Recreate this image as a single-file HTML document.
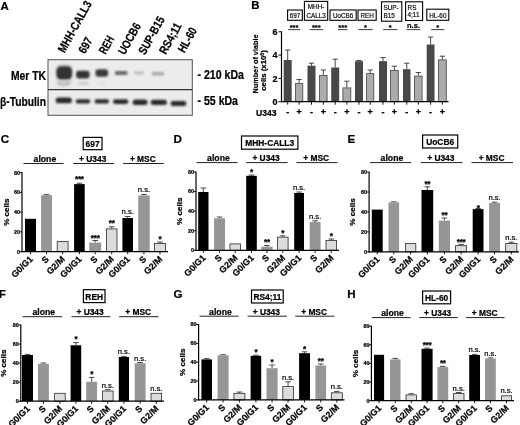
<!DOCTYPE html>
<html><head><meta charset="utf-8"><title>Figure</title>
<style>
html,body{margin:0;padding:0;background:#fff;}
body{width:520px;height:425px;overflow:hidden;}
svg{display:block;font-family:"Liberation Sans", Arial, sans-serif;filter:blur(0.35px);}
text[font-weight=bold]{stroke:#000;stroke-width:.22px;}
</style></head><body>
<svg width="520" height="425" viewBox="0 0 520 425">
<defs><filter id="blur" x="-20%" y="-50%" width="140%" height="200%"><feGaussianBlur stdDeviation="1.0"/></filter><filter id="blur2" x="-30%" y="-30%" width="160%" height="160%"><feGaussianBlur stdDeviation="1.8"/></filter></defs>
<rect x="0" y="0" width="520" height="425" fill="#fff"/>
<text x="0.6" y="9.6" font-size="11.4" font-weight="bold" text-anchor="start" fill="#000">A</text>
<rect x="48.00" y="59.70" width="144.30" height="55.60" fill="#ececec" stroke="#555" stroke-width="1"/>
<line x1="48" y1="89.7" x2="192.3" y2="89.7" stroke="#333" stroke-width="1.2"/>
<g filter="url(#blur2)"><rect x="56.5" y="63.5" width="15.5" height="23" rx="5" fill="#d6d6d6"/></g>
<g filter="url(#blur)">
<rect x="56.4" y="66.2" width="15.7" height="13.4" rx="4.8" ry="4.8" fill="#303030"/>
<rect x="76.1" y="70.7" width="13.5" height="7.7" rx="2.8" ry="2.8" fill="#333"/>
<rect x="95.5" y="69.3" width="12.6" height="7.4" rx="2.7" ry="2.7" fill="#3a3a3a"/>
<rect x="114.9" y="70.9" width="12.6" height="4.2" rx="1.5" ry="1.5" fill="#666"/>
<rect x="133.9" y="70.9" width="10.0" height="3.8" rx="1.4" ry="1.4" fill="#c4c4c4"/>
<rect x="151.7" y="71.9" width="12.4" height="3.7" rx="1.3" ry="1.3" fill="#a8a8a8"/>
<rect x="57.5" y="81.5" width="12.5" height="4" rx="2" fill="#c2c2c2"/>
<rect x="77.5" y="82" width="11" height="2.5" rx="1.2" fill="#c8c8c8"/>
<rect x="97" y="82.5" width="9" height="2" rx="1" fill="#dedede"/>
<rect x="55.7" y="97.5" width="16.2" height="5.8" rx="2.9" ry="2.9" fill="#2c2c2c"/>
<rect x="75.7" y="99.3" width="14.5" height="4.3" rx="2.1" ry="2.1" fill="#2c2c2c"/>
<rect x="94.6" y="99.3" width="14.4" height="4.3" rx="2.1" ry="2.1" fill="#2c2c2c"/>
<rect x="113.0" y="99.3" width="15.3" height="4.8" rx="2.4" ry="2.4" fill="#2c2c2c"/>
<rect x="132.6" y="99.5" width="15.0" height="5.6" rx="2.8" ry="2.8" fill="#2c2c2c"/>
<rect x="150.7" y="99.7" width="16.2" height="5.2" rx="2.6" ry="2.6" fill="#2c2c2c"/>
<rect x="170.6" y="101.1" width="15.7" height="5.0" rx="2.5" ry="2.5" fill="#2c2c2c"/>
</g>
<text x="46" y="80" font-size="12.6" font-weight="bold" text-anchor="end" fill="#000" stroke="#000" stroke-width="0.35" textLength="35" lengthAdjust="spacingAndGlyphs">Mer TK</text>
<text x="46" y="106.2" font-size="12.6" font-weight="bold" text-anchor="end" fill="#000" stroke="#000" stroke-width="0.35" textLength="46" lengthAdjust="spacingAndGlyphs">β-Tubulin</text>
<text x="197.5" y="79" font-size="12.2" font-weight="bold" text-anchor="start" fill="#000" stroke="#000" stroke-width="0.35" textLength="46.5" lengthAdjust="spacingAndGlyphs">- 210 kDa</text>
<text x="197.5" y="105.3" font-size="12.2" font-weight="bold" text-anchor="start" fill="#000" stroke="#000" stroke-width="0.35" textLength="40.5" lengthAdjust="spacingAndGlyphs">- 55 kDa</text>
<text x="64.5" y="53.5" font-size="12" font-weight="bold" text-anchor="start" fill="#000" transform="rotate(-61 64.5 53.5)" stroke="#000" stroke-width="0.35" textLength="57" lengthAdjust="spacingAndGlyphs">MHH-CALL3</text>
<text x="85" y="54.5" font-size="12" font-weight="bold" text-anchor="start" fill="#000" transform="rotate(-61 85 54.5)" stroke="#000" stroke-width="0.35" textLength="16.5" lengthAdjust="spacingAndGlyphs">697</text>
<text x="105.6" y="55" font-size="12" font-weight="bold" text-anchor="start" fill="#000" transform="rotate(-61 105.6 55)" stroke="#000" stroke-width="0.35" textLength="18.5" lengthAdjust="spacingAndGlyphs">REH</text>
<text x="124.8" y="55.6" font-size="12" font-weight="bold" text-anchor="start" fill="#000" transform="rotate(-61 124.8 55.6)" stroke="#000" stroke-width="0.35" textLength="34" lengthAdjust="spacingAndGlyphs">UOCB6</text>
<text x="145" y="55.6" font-size="12" font-weight="bold" text-anchor="start" fill="#000" transform="rotate(-61 145 55.6)" stroke="#000" stroke-width="0.35" textLength="41.5" lengthAdjust="spacingAndGlyphs">SUP-B15</text>
<text x="165.8" y="55" font-size="12" font-weight="bold" text-anchor="start" fill="#000" transform="rotate(-61 165.8 55)" stroke="#000" stroke-width="0.35" textLength="33.5" lengthAdjust="spacingAndGlyphs">RS4;11</text>
<text x="184.5" y="53.5" font-size="12" font-weight="bold" text-anchor="start" fill="#000" transform="rotate(-61 184.5 53.5)" stroke="#000" stroke-width="0.35" textLength="26.5" lengthAdjust="spacingAndGlyphs">HL-60</text>
<text x="251.2" y="8.8" font-size="11.4" font-weight="bold" text-anchor="start" fill="#000">B</text>
<line x1="287.7" y1="60" x2="287.7" y2="50" stroke="#333" stroke-width="0.9"/>
<line x1="285.09999999999997" y1="50" x2="290.3" y2="50" stroke="#333" stroke-width="0.9"/>
<rect x="283.70" y="60.00" width="8.00" height="41.70" fill="#484848" stroke="none" stroke-width="1"/>
<line x1="287.7" y1="101.7" x2="287.7" y2="104.7" stroke="#000" stroke-width="0.9"/>
<text x="287.7" y="115.2" font-size="9" font-weight="bold" text-anchor="middle" fill="#000">-</text>
<line x1="299.1" y1="83.2" x2="299.1" y2="79.5" stroke="#333" stroke-width="0.9"/>
<line x1="296.5" y1="79.5" x2="301.70000000000005" y2="79.5" stroke="#333" stroke-width="0.9"/>
<rect x="295.40" y="83.60" width="7.40" height="18.10" fill="#ababab" stroke="#444" stroke-width="0.8"/>
<line x1="299.1" y1="101.7" x2="299.1" y2="104.7" stroke="#000" stroke-width="0.9"/>
<text x="299.1" y="115.2" font-size="9" font-weight="bold" text-anchor="middle" fill="#000">+</text>
<line x1="311.5" y1="65.7" x2="311.5" y2="63.2" stroke="#333" stroke-width="0.9"/>
<line x1="308.9" y1="63.2" x2="314.1" y2="63.2" stroke="#333" stroke-width="0.9"/>
<rect x="307.50" y="65.70" width="8.00" height="36.00" fill="#484848" stroke="none" stroke-width="1"/>
<line x1="311.5" y1="101.7" x2="311.5" y2="104.7" stroke="#000" stroke-width="0.9"/>
<text x="311.5" y="115.2" font-size="9" font-weight="bold" text-anchor="middle" fill="#000">-</text>
<line x1="323.35" y1="75" x2="323.35" y2="70" stroke="#333" stroke-width="0.9"/>
<line x1="320.75" y1="70" x2="325.95000000000005" y2="70" stroke="#333" stroke-width="0.9"/>
<rect x="319.60" y="75.40" width="7.50" height="26.30" fill="#ababab" stroke="#444" stroke-width="0.8"/>
<line x1="323.35" y1="101.7" x2="323.35" y2="104.7" stroke="#000" stroke-width="0.9"/>
<text x="323.35" y="115.2" font-size="9" font-weight="bold" text-anchor="middle" fill="#000">+</text>
<line x1="335.2" y1="67.5" x2="335.2" y2="59.2" stroke="#333" stroke-width="0.9"/>
<line x1="332.59999999999997" y1="59.2" x2="337.8" y2="59.2" stroke="#333" stroke-width="0.9"/>
<rect x="331.20" y="67.50" width="8.00" height="34.20" fill="#484848" stroke="none" stroke-width="1"/>
<line x1="335.2" y1="101.7" x2="335.2" y2="104.7" stroke="#000" stroke-width="0.9"/>
<text x="335.2" y="115.2" font-size="9" font-weight="bold" text-anchor="middle" fill="#000">-</text>
<line x1="346.85" y1="87.5" x2="346.85" y2="81.2" stroke="#333" stroke-width="0.9"/>
<line x1="344.25" y1="81.2" x2="349.45000000000005" y2="81.2" stroke="#333" stroke-width="0.9"/>
<rect x="342.90" y="87.90" width="7.90" height="13.80" fill="#ababab" stroke="#444" stroke-width="0.8"/>
<line x1="346.85" y1="101.7" x2="346.85" y2="104.7" stroke="#000" stroke-width="0.9"/>
<text x="346.85" y="115.2" font-size="9" font-weight="bold" text-anchor="middle" fill="#000">+</text>
<line x1="359.0" y1="61.2" x2="359.0" y2="60.5" stroke="#333" stroke-width="0.9"/>
<line x1="356.4" y1="60.5" x2="361.6" y2="60.5" stroke="#333" stroke-width="0.9"/>
<rect x="355.00" y="61.20" width="8.00" height="40.50" fill="#484848" stroke="none" stroke-width="1"/>
<line x1="359.0" y1="101.7" x2="359.0" y2="104.7" stroke="#000" stroke-width="0.9"/>
<text x="359.0" y="115.2" font-size="9" font-weight="bold" text-anchor="middle" fill="#000">-</text>
<line x1="370.2" y1="73.2" x2="370.2" y2="70" stroke="#333" stroke-width="0.9"/>
<line x1="367.59999999999997" y1="70" x2="372.8" y2="70" stroke="#333" stroke-width="0.9"/>
<rect x="366.60" y="73.60" width="7.20" height="28.10" fill="#ababab" stroke="#444" stroke-width="0.8"/>
<line x1="370.2" y1="101.7" x2="370.2" y2="104.7" stroke="#000" stroke-width="0.9"/>
<text x="370.2" y="115.2" font-size="9" font-weight="bold" text-anchor="middle" fill="#000">+</text>
<line x1="383.0" y1="61.2" x2="383.0" y2="57.5" stroke="#333" stroke-width="0.9"/>
<line x1="380.4" y1="57.5" x2="385.6" y2="57.5" stroke="#333" stroke-width="0.9"/>
<rect x="379.00" y="61.20" width="8.00" height="40.50" fill="#484848" stroke="none" stroke-width="1"/>
<line x1="383.0" y1="101.7" x2="383.0" y2="104.7" stroke="#000" stroke-width="0.9"/>
<text x="383.0" y="115.2" font-size="9" font-weight="bold" text-anchor="middle" fill="#000">-</text>
<line x1="394.35" y1="70" x2="394.35" y2="66.2" stroke="#333" stroke-width="0.9"/>
<line x1="391.75" y1="66.2" x2="396.95000000000005" y2="66.2" stroke="#333" stroke-width="0.9"/>
<rect x="390.40" y="70.40" width="7.90" height="31.30" fill="#ababab" stroke="#444" stroke-width="0.8"/>
<line x1="394.35" y1="101.7" x2="394.35" y2="104.7" stroke="#000" stroke-width="0.9"/>
<text x="394.35" y="115.2" font-size="9" font-weight="bold" text-anchor="middle" fill="#000">+</text>
<line x1="406.75" y1="69.2" x2="406.75" y2="63.2" stroke="#333" stroke-width="0.9"/>
<line x1="404.15" y1="63.2" x2="409.35" y2="63.2" stroke="#333" stroke-width="0.9"/>
<rect x="403.00" y="69.20" width="7.50" height="32.50" fill="#484848" stroke="none" stroke-width="1"/>
<line x1="406.75" y1="101.7" x2="406.75" y2="104.7" stroke="#000" stroke-width="0.9"/>
<text x="406.75" y="115.2" font-size="9" font-weight="bold" text-anchor="middle" fill="#000">-</text>
<line x1="418.35" y1="75.7" x2="418.35" y2="72.5" stroke="#333" stroke-width="0.9"/>
<line x1="415.75" y1="72.5" x2="420.95000000000005" y2="72.5" stroke="#333" stroke-width="0.9"/>
<rect x="414.60" y="76.10" width="7.50" height="25.60" fill="#ababab" stroke="#444" stroke-width="0.8"/>
<line x1="418.35" y1="101.7" x2="418.35" y2="104.7" stroke="#000" stroke-width="0.9"/>
<text x="418.35" y="115.2" font-size="9" font-weight="bold" text-anchor="middle" fill="#000">+</text>
<line x1="430.6" y1="44.5" x2="430.6" y2="37" stroke="#333" stroke-width="0.9"/>
<line x1="428.0" y1="37" x2="433.20000000000005" y2="37" stroke="#333" stroke-width="0.9"/>
<rect x="426.70" y="44.50" width="7.80" height="57.20" fill="#484848" stroke="none" stroke-width="1"/>
<line x1="430.6" y1="101.7" x2="430.6" y2="104.7" stroke="#000" stroke-width="0.9"/>
<text x="430.6" y="115.2" font-size="9" font-weight="bold" text-anchor="middle" fill="#000">-</text>
<line x1="442.35" y1="59.5" x2="442.35" y2="56.2" stroke="#333" stroke-width="0.9"/>
<line x1="439.75" y1="56.2" x2="444.95000000000005" y2="56.2" stroke="#333" stroke-width="0.9"/>
<rect x="438.40" y="59.90" width="7.90" height="41.80" fill="#ababab" stroke="#444" stroke-width="0.8"/>
<line x1="442.35" y1="101.7" x2="442.35" y2="104.7" stroke="#000" stroke-width="0.9"/>
<text x="442.35" y="115.2" font-size="9" font-weight="bold" text-anchor="middle" fill="#000">+</text>
<line x1="281.5" y1="31.3" x2="281.5" y2="102.3" stroke="#000" stroke-width="1.2"/>
<line x1="280.9" y1="101.7" x2="448.5" y2="101.7" stroke="#000" stroke-width="1.3"/>
<line x1="278.5" y1="101.7" x2="281.5" y2="101.7" stroke="#000" stroke-width="1"/>
<text x="277.5" y="104.9" font-size="9" font-weight="bold" text-anchor="end" fill="#000">0</text>
<line x1="278.5" y1="78.4" x2="281.5" y2="78.4" stroke="#000" stroke-width="1"/>
<text x="277.5" y="81.60000000000001" font-size="9" font-weight="bold" text-anchor="end" fill="#000">2</text>
<line x1="278.5" y1="55.1" x2="281.5" y2="55.1" stroke="#000" stroke-width="1"/>
<text x="277.5" y="58.300000000000004" font-size="9" font-weight="bold" text-anchor="end" fill="#000">4</text>
<line x1="278.5" y1="31.799999999999997" x2="281.5" y2="31.799999999999997" stroke="#000" stroke-width="1"/>
<text x="277.5" y="35.0" font-size="9" font-weight="bold" text-anchor="end" fill="#000">6</text>
<text x="256" y="116" font-size="8.6" font-weight="bold" text-anchor="start" fill="#000">U343</text>
<text x="257.8" y="64" font-size="7.8" font-weight="bold" text-anchor="middle" fill="#000" transform="rotate(-90 257.8 64)" textLength="59" lengthAdjust="spacingAndGlyphs">Number of viable</text>
<text x="266.4" y="70.5" font-size="7.8" font-weight="bold" text-anchor="middle" transform="rotate(-90 266.4 70.5)">cells (x10<tspan font-size="5" dy="-2.5">6</tspan><tspan dy="2.5">)</tspan></text>
<rect x="287.60" y="10.00" width="14.70" height="10.30" fill="#fff" stroke="#000" stroke-width="1.1"/>
<text transform="translate(294.95 17.90) scale(0.88 1)" x="0" y="0" font-size="7.2" font-weight="normal" text-anchor="middle" stroke="#000" stroke-width="0.18">697</text>
<rect x="304.40" y="1.40" width="23.30" height="18.90" fill="#fff" stroke="#000" stroke-width="1.1"/>
<text transform="translate(316.05 9.00) scale(0.88 1)" x="0" y="0" font-size="7.2" font-weight="normal" text-anchor="middle" stroke="#000" stroke-width="0.18">MHH-</text>
<text transform="translate(316.05 17.50) scale(0.88 1)" x="0" y="0" font-size="7.2" font-weight="normal" text-anchor="middle" stroke="#000" stroke-width="0.18">CALL3</text>
<rect x="330.00" y="10.00" width="26.20" height="10.30" fill="#fff" stroke="#000" stroke-width="1.1"/>
<text transform="translate(343.10 17.90) scale(0.88 1)" x="0" y="0" font-size="7.2" font-weight="normal" text-anchor="middle" stroke="#000" stroke-width="0.18">UoCB6</text>
<rect x="358.00" y="10.00" width="18.20" height="10.30" fill="#fff" stroke="#000" stroke-width="1.1"/>
<text transform="translate(367.10 17.90) scale(0.88 1)" x="0" y="0" font-size="7.2" font-weight="normal" text-anchor="middle" stroke="#000" stroke-width="0.18">REH</text>
<rect x="381.50" y="1.80" width="20.30" height="19.40" fill="#fff" stroke="#000" stroke-width="1.1"/>
<text transform="translate(383.50 9.60) scale(0.88 1)" x="0" y="0" font-size="7.2" font-weight="normal" text-anchor="start" stroke="#000" stroke-width="0.18">SUP-</text>
<text transform="translate(383.50 17.80) scale(0.88 1)" x="0" y="0" font-size="7.2" font-weight="normal" text-anchor="start" stroke="#000" stroke-width="0.18">B15</text>
<rect x="405.60" y="1.80" width="17.00" height="18.70" fill="#fff" stroke="#000" stroke-width="1.1"/>
<text transform="translate(407.60 9.60) scale(0.88 1)" x="0" y="0" font-size="7.2" font-weight="normal" text-anchor="start" stroke="#000" stroke-width="0.18">RS</text>
<text transform="translate(407.60 17.10) scale(0.88 1)" x="0" y="0" font-size="7.2" font-weight="normal" text-anchor="start" stroke="#000" stroke-width="0.18">4;11</text>
<rect x="426.80" y="9.20" width="22.00" height="11.10" fill="#fff" stroke="#000" stroke-width="1.1"/>
<text transform="translate(437.80 17.90) scale(0.88 1)" x="0" y="0" font-size="7.2" font-weight="normal" text-anchor="middle" stroke="#000" stroke-width="0.18">HL-60</text>
<line x1="288.2" y1="29.6" x2="300" y2="29.6" stroke="#222" stroke-width="0.9"/>
<text x="294.1" y="29.6" font-size="7.5" font-weight="bold" text-anchor="middle" fill="#000">***</text>
<line x1="309.7" y1="29.6" x2="323" y2="29.6" stroke="#222" stroke-width="0.9"/>
<text x="316.35" y="29.6" font-size="7.5" font-weight="bold" text-anchor="middle" fill="#000">***</text>
<line x1="338" y1="29.6" x2="347.4" y2="29.6" stroke="#222" stroke-width="0.9"/>
<text x="342.7" y="29.6" font-size="7.5" font-weight="bold" text-anchor="middle" fill="#000">***</text>
<line x1="358.5" y1="29.6" x2="372.6" y2="29.6" stroke="#222" stroke-width="0.9"/>
<text x="365.55" y="29.6" font-size="7.5" font-weight="bold" text-anchor="middle" fill="#000">*</text>
<line x1="383.2" y1="29.6" x2="397.4" y2="29.6" stroke="#222" stroke-width="0.9"/>
<text x="390.29999999999995" y="29.6" font-size="7.5" font-weight="bold" text-anchor="middle" fill="#000">*</text>
<line x1="406.7" y1="29.6" x2="420.3" y2="29.6" stroke="#222" stroke-width="0.9"/>
<text x="413.5" y="28.3" font-size="7.5" font-weight="bold" text-anchor="middle" fill="#000">n.s.</text>
<line x1="431.2" y1="29.6" x2="444.4" y2="29.6" stroke="#222" stroke-width="0.9"/>
<text x="437.79999999999995" y="29.6" font-size="7.5" font-weight="bold" text-anchor="middle" fill="#000">*</text>
<text x="0.8" y="142.6" font-size="11.6" font-weight="bold" text-anchor="start" fill="#000">C</text>
<rect x="83.20" y="137.40" width="18.80" height="12.30" fill="#fff" stroke="#000" stroke-width="1.2"/>
<text x="92.6" y="146.79999999999998" font-size="8.4" font-weight="bold" text-anchor="middle" fill="#000">697</text>
<line x1="23.5" y1="163.5" x2="63.5" y2="163.5" stroke="#222" stroke-width="1.0"/>
<text x="44.9" y="161.9" font-size="8.7" font-weight="bold" text-anchor="middle" fill="#000">alone</text>
<line x1="73.2" y1="163.5" x2="114" y2="163.5" stroke="#222" stroke-width="1.0"/>
<text x="92.69999999999999" y="161.9" font-size="8.4" font-weight="bold" text-anchor="middle" fill="#000">+ U343</text>
<line x1="123.2" y1="163.5" x2="163.8" y2="163.5" stroke="#222" stroke-width="1.0"/>
<text x="142.8" y="161.9" font-size="8.4" font-weight="bold" text-anchor="middle" fill="#000">+ MSC</text>
<rect x="25.00" y="218.80" width="11.00" height="32.80" fill="#000" stroke="none" stroke-width="1"/>
<line x1="30.5" y1="251.6" x2="30.5" y2="254.2" stroke="#000" stroke-width="0.9"/>
<text x="33.4" y="259.7" font-size="8.9" font-weight="bold" text-anchor="end" fill="#000" transform="rotate(-45 33.4 259.7)">G0/G1</text>
<line x1="46.55" y1="195.2" x2="46.55" y2="194.6" stroke="#222" stroke-width="0.8"/>
<line x1="43.75" y1="194.6" x2="49.349999999999994" y2="194.6" stroke="#222" stroke-width="0.8"/>
<rect x="41.10" y="195.20" width="10.90" height="56.40" fill="#969696" stroke="none" stroke-width="1"/>
<line x1="46.55" y1="251.6" x2="46.55" y2="254.2" stroke="#000" stroke-width="0.9"/>
<text x="49.449999999999996" y="259.7" font-size="8.9" font-weight="bold" text-anchor="end" fill="#000" transform="rotate(-45 49.449999999999996 259.7)">S</text>
<rect x="57.20" y="241.60" width="10.90" height="10.00" fill="#dcdcdc" stroke="#2a2a2a" stroke-width="0.8"/>
<line x1="62.65" y1="251.6" x2="62.65" y2="254.2" stroke="#000" stroke-width="0.9"/>
<text x="65.55" y="259.7" font-size="8.9" font-weight="bold" text-anchor="end" fill="#000" transform="rotate(-45 65.55 259.7)">G2/M</text>
<line x1="79.4" y1="184.1" x2="79.4" y2="183.2" stroke="#222" stroke-width="0.8"/>
<line x1="76.60000000000001" y1="183.2" x2="82.2" y2="183.2" stroke="#222" stroke-width="0.8"/>
<rect x="74.10" y="184.10" width="10.60" height="67.50" fill="#000" stroke="none" stroke-width="1"/>
<line x1="79.4" y1="251.6" x2="79.4" y2="254.2" stroke="#000" stroke-width="0.9"/>
<text x="82.30000000000001" y="259.7" font-size="8.9" font-weight="bold" text-anchor="end" fill="#000" transform="rotate(-45 82.30000000000001 259.7)">G0/G1</text>
<line x1="95.2" y1="242.6" x2="95.2" y2="240.5" stroke="#222" stroke-width="0.8"/>
<line x1="92.4" y1="240.5" x2="98.0" y2="240.5" stroke="#222" stroke-width="0.8"/>
<rect x="89.20" y="242.60" width="12.00" height="9.00" fill="#969696" stroke="none" stroke-width="1"/>
<line x1="95.2" y1="251.6" x2="95.2" y2="254.2" stroke="#000" stroke-width="0.9"/>
<text x="98.10000000000001" y="259.7" font-size="8.9" font-weight="bold" text-anchor="end" fill="#000" transform="rotate(-45 98.10000000000001 259.7)">S</text>
<line x1="111.7" y1="228.5" x2="111.7" y2="226.8" stroke="#222" stroke-width="0.8"/>
<line x1="108.9" y1="226.8" x2="114.5" y2="226.8" stroke="#222" stroke-width="0.8"/>
<rect x="106.40" y="228.90" width="10.60" height="22.70" fill="#dcdcdc" stroke="#2a2a2a" stroke-width="0.8"/>
<line x1="111.7" y1="251.6" x2="111.7" y2="254.2" stroke="#000" stroke-width="0.9"/>
<text x="114.60000000000001" y="259.7" font-size="8.9" font-weight="bold" text-anchor="end" fill="#000" transform="rotate(-45 114.60000000000001 259.7)">G2/M</text>
<line x1="127.7" y1="218" x2="127.7" y2="216.5" stroke="#222" stroke-width="0.8"/>
<line x1="124.9" y1="216.5" x2="130.5" y2="216.5" stroke="#222" stroke-width="0.8"/>
<rect x="122.40" y="218.00" width="10.60" height="33.60" fill="#000" stroke="none" stroke-width="1"/>
<line x1="127.7" y1="251.6" x2="127.7" y2="254.2" stroke="#000" stroke-width="0.9"/>
<text x="130.6" y="259.7" font-size="8.9" font-weight="bold" text-anchor="end" fill="#000" transform="rotate(-45 130.6 259.7)">G0/G1</text>
<line x1="143.95" y1="195.5" x2="143.95" y2="194.5" stroke="#222" stroke-width="0.8"/>
<line x1="141.14999999999998" y1="194.5" x2="146.75" y2="194.5" stroke="#222" stroke-width="0.8"/>
<rect x="138.20" y="195.50" width="11.50" height="56.10" fill="#969696" stroke="none" stroke-width="1"/>
<line x1="143.95" y1="251.6" x2="143.95" y2="254.2" stroke="#000" stroke-width="0.9"/>
<text x="146.85" y="259.7" font-size="8.9" font-weight="bold" text-anchor="end" fill="#000" transform="rotate(-45 146.85 259.7)">S</text>
<line x1="160.0" y1="243" x2="160.0" y2="242" stroke="#222" stroke-width="0.8"/>
<line x1="157.2" y1="242" x2="162.8" y2="242" stroke="#222" stroke-width="0.8"/>
<rect x="154.40" y="243.40" width="11.20" height="8.20" fill="#dcdcdc" stroke="#2a2a2a" stroke-width="0.8"/>
<line x1="160.0" y1="251.6" x2="160.0" y2="254.2" stroke="#000" stroke-width="0.9"/>
<text x="162.9" y="259.7" font-size="8.9" font-weight="bold" text-anchor="end" fill="#000" transform="rotate(-45 162.9 259.7)">G2/M</text>
<line x1="22" y1="172.2" x2="22" y2="252.2" stroke="#000" stroke-width="1.2"/>
<line x1="21.4" y1="251.6" x2="168" y2="251.6" stroke="#000" stroke-width="1.3"/>
<line x1="19.4" y1="251.6" x2="22" y2="251.6" stroke="#000" stroke-width="0.9"/>
<text x="20" y="253.5" font-size="5.4" font-weight="bold" text-anchor="end" fill="#000">0</text>
<line x1="19.4" y1="231.85" x2="22" y2="231.85" stroke="#000" stroke-width="0.9"/>
<text x="20" y="233.75" font-size="5.4" font-weight="bold" text-anchor="end" fill="#000">20</text>
<line x1="19.4" y1="212.1" x2="22" y2="212.1" stroke="#000" stroke-width="0.9"/>
<text x="20" y="214.0" font-size="5.4" font-weight="bold" text-anchor="end" fill="#000">40</text>
<line x1="19.4" y1="192.35" x2="22" y2="192.35" stroke="#000" stroke-width="0.9"/>
<text x="20" y="194.25" font-size="5.4" font-weight="bold" text-anchor="end" fill="#000">60</text>
<line x1="19.4" y1="172.6" x2="22" y2="172.6" stroke="#000" stroke-width="0.9"/>
<text x="20" y="174.5" font-size="5.4" font-weight="bold" text-anchor="end" fill="#000">80</text>
<text x="8.6" y="212.1" font-size="8.1" font-weight="bold" text-anchor="middle" fill="#000" transform="rotate(-90 8.6 212.1)">% cells</text>
<text x="79.4" y="181.7" font-size="8.2" font-weight="bold" text-anchor="middle" fill="#000" stroke="#000" stroke-width="0.4" letter-spacing="-0.3">***</text>
<text x="95.2" y="241.1" font-size="8.2" font-weight="bold" text-anchor="middle" fill="#000" stroke="#000" stroke-width="0.4" letter-spacing="-0.3">***</text>
<text x="111.7" y="226.1" font-size="8.2" font-weight="bold" text-anchor="middle" fill="#000" stroke="#000" stroke-width="0.4" letter-spacing="-0.3">**</text>
<text x="127.7" y="214" font-size="7.6" font-weight="normal" text-anchor="middle" fill="#000" stroke="#000" stroke-width="0.22">n.s.</text>
<text x="143.95" y="192" font-size="7.6" font-weight="normal" text-anchor="middle" fill="#000" stroke="#000" stroke-width="0.22">n.s.</text>
<text x="160.0" y="241.89999999999998" font-size="8.2" font-weight="bold" text-anchor="middle" fill="#000" stroke="#000" stroke-width="0.4" letter-spacing="-0.3">*</text>
<text x="173.5" y="142.6" font-size="11.6" font-weight="bold" text-anchor="start" fill="#000">D</text>
<rect x="241.50" y="136.00" width="56.40" height="13.20" fill="#fff" stroke="#000" stroke-width="1.2"/>
<text x="269.7" y="146.29999999999998" font-size="8.4" font-weight="bold" text-anchor="middle" fill="#000">MHH-CALL3</text>
<line x1="196.5" y1="162.6" x2="237.6" y2="162.6" stroke="#222" stroke-width="1.0"/>
<text x="218.45000000000002" y="161.0" font-size="8.7" font-weight="bold" text-anchor="middle" fill="#000">alone</text>
<line x1="246.2" y1="162.6" x2="287.6" y2="162.6" stroke="#222" stroke-width="1.0"/>
<text x="266.0" y="161.0" font-size="8.4" font-weight="bold" text-anchor="middle" fill="#000">+ U343</text>
<line x1="296.5" y1="162.6" x2="337.4" y2="162.6" stroke="#222" stroke-width="1.0"/>
<text x="316.25" y="161.0" font-size="8.4" font-weight="bold" text-anchor="middle" fill="#000">+ MSC</text>
<line x1="203.35" y1="192" x2="203.35" y2="188" stroke="#222" stroke-width="0.8"/>
<line x1="200.54999999999998" y1="188" x2="206.15" y2="188" stroke="#222" stroke-width="0.8"/>
<rect x="198.20" y="192.00" width="10.30" height="58.30" fill="#000" stroke="none" stroke-width="1"/>
<line x1="203.35" y1="250.3" x2="203.35" y2="252.9" stroke="#000" stroke-width="0.9"/>
<text x="206.25" y="258.40000000000003" font-size="8.9" font-weight="bold" text-anchor="end" fill="#000" transform="rotate(-45 206.25 258.40000000000003)">G0/G1</text>
<line x1="219.55" y1="218.3" x2="219.55" y2="217" stroke="#222" stroke-width="0.8"/>
<line x1="216.75" y1="217" x2="222.35000000000002" y2="217" stroke="#222" stroke-width="0.8"/>
<rect x="214.10" y="218.30" width="10.90" height="32.00" fill="#969696" stroke="none" stroke-width="1"/>
<line x1="219.55" y1="250.3" x2="219.55" y2="252.9" stroke="#000" stroke-width="0.9"/>
<text x="222.45000000000002" y="258.40000000000003" font-size="8.9" font-weight="bold" text-anchor="end" fill="#000" transform="rotate(-45 222.45000000000002 258.40000000000003)">S</text>
<rect x="229.90" y="243.90" width="10.70" height="6.40" fill="#dcdcdc" stroke="#2a2a2a" stroke-width="0.8"/>
<line x1="235.25" y1="250.3" x2="235.25" y2="252.9" stroke="#000" stroke-width="0.9"/>
<text x="238.15" y="258.40000000000003" font-size="8.9" font-weight="bold" text-anchor="end" fill="#000" transform="rotate(-45 238.15 258.40000000000003)">G2/M</text>
<line x1="251.5" y1="175.8" x2="251.5" y2="175" stroke="#222" stroke-width="0.8"/>
<line x1="248.7" y1="175" x2="254.3" y2="175" stroke="#222" stroke-width="0.8"/>
<rect x="246.20" y="175.80" width="10.60" height="74.50" fill="#000" stroke="none" stroke-width="1"/>
<line x1="251.5" y1="250.3" x2="251.5" y2="252.9" stroke="#000" stroke-width="0.9"/>
<text x="254.4" y="258.40000000000003" font-size="8.9" font-weight="bold" text-anchor="end" fill="#000" transform="rotate(-45 254.4 258.40000000000003)">G0/G1</text>
<line x1="266.9" y1="246.7" x2="266.9" y2="245.5" stroke="#222" stroke-width="0.8"/>
<line x1="264.09999999999997" y1="245.5" x2="269.7" y2="245.5" stroke="#222" stroke-width="0.8"/>
<rect x="261.20" y="246.70" width="11.40" height="3.60" fill="#969696" stroke="none" stroke-width="1"/>
<line x1="266.9" y1="250.3" x2="266.9" y2="252.9" stroke="#000" stroke-width="0.9"/>
<text x="269.79999999999995" y="258.40000000000003" font-size="8.9" font-weight="bold" text-anchor="end" fill="#000" transform="rotate(-45 269.79999999999995 258.40000000000003)">S</text>
<line x1="282.75" y1="236.8" x2="282.75" y2="235.8" stroke="#222" stroke-width="0.8"/>
<line x1="279.95" y1="235.8" x2="285.55" y2="235.8" stroke="#222" stroke-width="0.8"/>
<rect x="277.40" y="237.20" width="10.70" height="13.10" fill="#dcdcdc" stroke="#2a2a2a" stroke-width="0.8"/>
<line x1="282.75" y1="250.3" x2="282.75" y2="252.9" stroke="#000" stroke-width="0.9"/>
<text x="285.65" y="258.40000000000003" font-size="8.9" font-weight="bold" text-anchor="end" fill="#000" transform="rotate(-45 285.65 258.40000000000003)">G2/M</text>
<line x1="299.1" y1="193" x2="299.1" y2="192" stroke="#222" stroke-width="0.8"/>
<line x1="296.3" y1="192" x2="301.90000000000003" y2="192" stroke="#222" stroke-width="0.8"/>
<rect x="294.20" y="193.00" width="9.80" height="57.30" fill="#000" stroke="none" stroke-width="1"/>
<line x1="299.1" y1="250.3" x2="299.1" y2="252.9" stroke="#000" stroke-width="0.9"/>
<text x="302.0" y="258.40000000000003" font-size="8.9" font-weight="bold" text-anchor="end" fill="#000" transform="rotate(-45 302.0 258.40000000000003)">G0/G1</text>
<line x1="315.15" y1="222" x2="315.15" y2="220.8" stroke="#222" stroke-width="0.8"/>
<line x1="312.34999999999997" y1="220.8" x2="317.95" y2="220.8" stroke="#222" stroke-width="0.8"/>
<rect x="309.70" y="222.00" width="10.90" height="28.30" fill="#969696" stroke="none" stroke-width="1"/>
<line x1="315.15" y1="250.3" x2="315.15" y2="252.9" stroke="#000" stroke-width="0.9"/>
<text x="318.04999999999995" y="258.40000000000003" font-size="8.9" font-weight="bold" text-anchor="end" fill="#000" transform="rotate(-45 318.04999999999995 258.40000000000003)">S</text>
<line x1="331.3" y1="240" x2="331.3" y2="239" stroke="#222" stroke-width="0.8"/>
<line x1="328.5" y1="239" x2="334.1" y2="239" stroke="#222" stroke-width="0.8"/>
<rect x="326.00" y="240.40" width="10.60" height="9.90" fill="#dcdcdc" stroke="#2a2a2a" stroke-width="0.8"/>
<line x1="331.3" y1="250.3" x2="331.3" y2="252.9" stroke="#000" stroke-width="0.9"/>
<text x="334.2" y="258.40000000000003" font-size="8.9" font-weight="bold" text-anchor="end" fill="#000" transform="rotate(-45 334.2 258.40000000000003)">G2/M</text>
<line x1="196" y1="171.6" x2="196" y2="250.9" stroke="#000" stroke-width="1.2"/>
<line x1="195.4" y1="250.3" x2="339" y2="250.3" stroke="#000" stroke-width="1.3"/>
<line x1="193.4" y1="250.3" x2="196" y2="250.3" stroke="#000" stroke-width="0.9"/>
<text x="194" y="252.20000000000002" font-size="5.4" font-weight="bold" text-anchor="end" fill="#000">0</text>
<line x1="193.4" y1="230.72500000000002" x2="196" y2="230.72500000000002" stroke="#000" stroke-width="0.9"/>
<text x="194" y="232.62500000000003" font-size="5.4" font-weight="bold" text-anchor="end" fill="#000">20</text>
<line x1="193.4" y1="211.15" x2="196" y2="211.15" stroke="#000" stroke-width="0.9"/>
<text x="194" y="213.05" font-size="5.4" font-weight="bold" text-anchor="end" fill="#000">40</text>
<line x1="193.4" y1="191.575" x2="196" y2="191.575" stroke="#000" stroke-width="0.9"/>
<text x="194" y="193.475" font-size="5.4" font-weight="bold" text-anchor="end" fill="#000">60</text>
<line x1="193.4" y1="172.0" x2="196" y2="172.0" stroke="#000" stroke-width="0.9"/>
<text x="194" y="173.9" font-size="5.4" font-weight="bold" text-anchor="end" fill="#000">80</text>
<text x="181.6" y="211.15" font-size="8.1" font-weight="bold" text-anchor="middle" fill="#000" transform="rotate(-90 181.6 211.15)">% cells</text>
<text x="251.5" y="174.7" font-size="8.2" font-weight="bold" text-anchor="middle" fill="#000" stroke="#000" stroke-width="0.4" letter-spacing="-0.3">*</text>
<text x="266.9" y="245.2" font-size="8.2" font-weight="bold" text-anchor="middle" fill="#000" stroke="#000" stroke-width="0.4" letter-spacing="-0.3">**</text>
<text x="282.75" y="235.5" font-size="8.2" font-weight="bold" text-anchor="middle" fill="#000" stroke="#000" stroke-width="0.4" letter-spacing="-0.3">*</text>
<text x="299.1" y="190" font-size="7.6" font-weight="normal" text-anchor="middle" fill="#000" stroke="#000" stroke-width="0.22">n.s.</text>
<text x="315.15" y="218.8" font-size="7.6" font-weight="normal" text-anchor="middle" fill="#000" stroke="#000" stroke-width="0.22">n.s.</text>
<text x="331.3" y="238.7" font-size="8.2" font-weight="bold" text-anchor="middle" fill="#000" stroke="#000" stroke-width="0.4" letter-spacing="-0.3">*</text>
<text x="347.6" y="142.6" font-size="11.6" font-weight="bold" text-anchor="start" fill="#000">E</text>
<rect x="422.60" y="135.00" width="35.10" height="13.00" fill="#fff" stroke="#000" stroke-width="1.2"/>
<text x="440.15" y="145.1" font-size="8.4" font-weight="bold" text-anchor="middle" fill="#000">UoCB6</text>
<line x1="370" y1="162.6" x2="411.1" y2="162.6" stroke="#222" stroke-width="1.0"/>
<text x="391.95" y="161.0" font-size="8.7" font-weight="bold" text-anchor="middle" fill="#000">alone</text>
<line x1="420.8" y1="162.6" x2="462.6" y2="162.6" stroke="#222" stroke-width="1.0"/>
<text x="440.80000000000007" y="161.0" font-size="8.4" font-weight="bold" text-anchor="middle" fill="#000">+ U343</text>
<line x1="471.5" y1="162.6" x2="513" y2="162.6" stroke="#222" stroke-width="1.0"/>
<text x="491.55" y="161.0" font-size="8.4" font-weight="bold" text-anchor="middle" fill="#000">+ MSC</text>
<rect x="371.80" y="209.60" width="10.90" height="42.20" fill="#000" stroke="none" stroke-width="1"/>
<line x1="377.25" y1="251.8" x2="377.25" y2="254.4" stroke="#000" stroke-width="0.9"/>
<text x="380.15" y="259.90000000000003" font-size="8.9" font-weight="bold" text-anchor="end" fill="#000" transform="rotate(-45 380.15 259.90000000000003)">G0/G1</text>
<line x1="393.8" y1="202.4" x2="393.8" y2="201.8" stroke="#222" stroke-width="0.8"/>
<line x1="391.0" y1="201.8" x2="396.6" y2="201.8" stroke="#222" stroke-width="0.8"/>
<rect x="388.50" y="202.40" width="10.60" height="49.40" fill="#969696" stroke="none" stroke-width="1"/>
<line x1="393.8" y1="251.8" x2="393.8" y2="254.4" stroke="#000" stroke-width="0.9"/>
<text x="396.7" y="259.90000000000003" font-size="8.9" font-weight="bold" text-anchor="end" fill="#000" transform="rotate(-45 396.7 259.90000000000003)">S</text>
<rect x="405.40" y="243.60" width="10.40" height="8.20" fill="#dcdcdc" stroke="#2a2a2a" stroke-width="0.8"/>
<line x1="410.6" y1="251.8" x2="410.6" y2="254.4" stroke="#000" stroke-width="0.9"/>
<text x="413.5" y="259.90000000000003" font-size="8.9" font-weight="bold" text-anchor="end" fill="#000" transform="rotate(-45 413.5 259.90000000000003)">G2/M</text>
<line x1="427.35" y1="190" x2="427.35" y2="186.8" stroke="#222" stroke-width="0.8"/>
<line x1="424.55" y1="186.8" x2="430.15000000000003" y2="186.8" stroke="#222" stroke-width="0.8"/>
<rect x="421.50" y="190.00" width="11.70" height="61.80" fill="#000" stroke="none" stroke-width="1"/>
<line x1="427.35" y1="251.8" x2="427.35" y2="254.4" stroke="#000" stroke-width="0.9"/>
<text x="430.25" y="259.90000000000003" font-size="8.9" font-weight="bold" text-anchor="end" fill="#000" transform="rotate(-45 430.25 259.90000000000003)">G0/G1</text>
<line x1="444.4" y1="220.6" x2="444.4" y2="218" stroke="#222" stroke-width="0.8"/>
<line x1="441.59999999999997" y1="218" x2="447.2" y2="218" stroke="#222" stroke-width="0.8"/>
<rect x="438.80" y="220.60" width="11.20" height="31.20" fill="#969696" stroke="none" stroke-width="1"/>
<line x1="444.4" y1="251.8" x2="444.4" y2="254.4" stroke="#000" stroke-width="0.9"/>
<text x="447.29999999999995" y="259.90000000000003" font-size="8.9" font-weight="bold" text-anchor="end" fill="#000" transform="rotate(-45 447.29999999999995 259.90000000000003)">S</text>
<line x1="461.1" y1="245.3" x2="461.1" y2="244.4" stroke="#222" stroke-width="0.8"/>
<line x1="458.3" y1="244.4" x2="463.90000000000003" y2="244.4" stroke="#222" stroke-width="0.8"/>
<rect x="455.60" y="245.70" width="11.00" height="6.10" fill="#dcdcdc" stroke="#2a2a2a" stroke-width="0.8"/>
<line x1="461.1" y1="251.8" x2="461.1" y2="254.4" stroke="#000" stroke-width="0.9"/>
<text x="464.0" y="259.90000000000003" font-size="8.9" font-weight="bold" text-anchor="end" fill="#000" transform="rotate(-45 464.0 259.90000000000003)">G2/M</text>
<line x1="478.1" y1="209.1" x2="478.1" y2="208.4" stroke="#222" stroke-width="0.8"/>
<line x1="475.3" y1="208.4" x2="480.90000000000003" y2="208.4" stroke="#222" stroke-width="0.8"/>
<rect x="472.70" y="209.10" width="10.80" height="42.70" fill="#000" stroke="none" stroke-width="1"/>
<line x1="478.1" y1="251.8" x2="478.1" y2="254.4" stroke="#000" stroke-width="0.9"/>
<text x="481.0" y="259.90000000000003" font-size="8.9" font-weight="bold" text-anchor="end" fill="#000" transform="rotate(-45 481.0 259.90000000000003)">G0/G1</text>
<line x1="494.55" y1="203" x2="494.55" y2="202.2" stroke="#222" stroke-width="0.8"/>
<line x1="491.75" y1="202.2" x2="497.35" y2="202.2" stroke="#222" stroke-width="0.8"/>
<rect x="489.10" y="203.00" width="10.90" height="48.80" fill="#969696" stroke="none" stroke-width="1"/>
<line x1="494.55" y1="251.8" x2="494.55" y2="254.4" stroke="#000" stroke-width="0.9"/>
<text x="497.45" y="259.90000000000003" font-size="8.9" font-weight="bold" text-anchor="end" fill="#000" transform="rotate(-45 497.45 259.90000000000003)">S</text>
<line x1="511.29999999999995" y1="243" x2="511.29999999999995" y2="242.2" stroke="#222" stroke-width="0.8"/>
<line x1="508.49999999999994" y1="242.2" x2="514.0999999999999" y2="242.2" stroke="#222" stroke-width="0.8"/>
<rect x="505.70" y="243.40" width="11.20" height="8.40" fill="#dcdcdc" stroke="#2a2a2a" stroke-width="0.8"/>
<line x1="511.29999999999995" y1="251.8" x2="511.29999999999995" y2="254.4" stroke="#000" stroke-width="0.9"/>
<text x="514.1999999999999" y="259.90000000000003" font-size="8.9" font-weight="bold" text-anchor="end" fill="#000" transform="rotate(-45 514.1999999999999 259.90000000000003)">G2/M</text>
<line x1="369.1" y1="171.7" x2="369.1" y2="252.4" stroke="#000" stroke-width="1.2"/>
<line x1="368.5" y1="251.8" x2="519" y2="251.8" stroke="#000" stroke-width="1.3"/>
<line x1="366.5" y1="251.8" x2="369.1" y2="251.8" stroke="#000" stroke-width="0.9"/>
<text x="367.1" y="253.70000000000002" font-size="5.4" font-weight="bold" text-anchor="end" fill="#000">0</text>
<line x1="366.5" y1="231.875" x2="369.1" y2="231.875" stroke="#000" stroke-width="0.9"/>
<text x="367.1" y="233.775" font-size="5.4" font-weight="bold" text-anchor="end" fill="#000">20</text>
<line x1="366.5" y1="211.95" x2="369.1" y2="211.95" stroke="#000" stroke-width="0.9"/>
<text x="367.1" y="213.85" font-size="5.4" font-weight="bold" text-anchor="end" fill="#000">40</text>
<line x1="366.5" y1="192.025" x2="369.1" y2="192.025" stroke="#000" stroke-width="0.9"/>
<text x="367.1" y="193.925" font-size="5.4" font-weight="bold" text-anchor="end" fill="#000">60</text>
<line x1="366.5" y1="172.1" x2="369.1" y2="172.1" stroke="#000" stroke-width="0.9"/>
<text x="367.1" y="174.0" font-size="5.4" font-weight="bold" text-anchor="end" fill="#000">80</text>
<text x="355.0" y="211.95" font-size="8.1" font-weight="bold" text-anchor="middle" fill="#000" transform="rotate(-90 355.0 211.95)">% cells</text>
<text x="427.35" y="186.5" font-size="8.2" font-weight="bold" text-anchor="middle" fill="#000" stroke="#000" stroke-width="0.4" letter-spacing="-0.3">**</text>
<text x="444.4" y="217.7" font-size="8.2" font-weight="bold" text-anchor="middle" fill="#000" stroke="#000" stroke-width="0.4" letter-spacing="-0.3">**</text>
<text x="461.1" y="245.2" font-size="8.2" font-weight="bold" text-anchor="middle" fill="#000" stroke="#000" stroke-width="0.4" letter-spacing="-0.3">***</text>
<text x="478.1" y="211.0" font-size="8.2" font-weight="bold" text-anchor="middle" fill="#000" stroke="#000" stroke-width="0.4" letter-spacing="-0.3">*</text>
<text x="494.55" y="200.2" font-size="7.6" font-weight="normal" text-anchor="middle" fill="#000" stroke="#000" stroke-width="0.22">n.s.</text>
<text x="511.29999999999995" y="240.2" font-size="7.6" font-weight="normal" text-anchor="middle" fill="#000" stroke="#000" stroke-width="0.22">n.s.</text>
<text x="-1.2" y="297.6" font-size="11.6" font-weight="bold" text-anchor="start" fill="#000">F</text>
<rect x="83.40" y="289.70" width="21.60" height="12.90" fill="#fff" stroke="#000" stroke-width="1.2"/>
<text x="94.2" y="299.70000000000005" font-size="8.4" font-weight="bold" text-anchor="middle" fill="#000">REH</text>
<line x1="22.6" y1="316.7" x2="62.1" y2="316.7" stroke="#222" stroke-width="1.0"/>
<text x="43.75" y="315.09999999999997" font-size="8.7" font-weight="bold" text-anchor="middle" fill="#000">alone</text>
<line x1="71.5" y1="316.7" x2="110.4" y2="316.7" stroke="#222" stroke-width="1.0"/>
<text x="90.05" y="315.09999999999997" font-size="8.4" font-weight="bold" text-anchor="middle" fill="#000">+ U343</text>
<line x1="119.2" y1="316.7" x2="158.5" y2="316.7" stroke="#222" stroke-width="1.0"/>
<text x="138.15" y="315.09999999999997" font-size="8.4" font-weight="bold" text-anchor="middle" fill="#000">+ MSC</text>
<line x1="27.5" y1="355" x2="27.5" y2="354.4" stroke="#222" stroke-width="0.8"/>
<line x1="24.7" y1="354.4" x2="30.3" y2="354.4" stroke="#222" stroke-width="0.8"/>
<rect x="22.00" y="355.00" width="11.00" height="46.20" fill="#000" stroke="none" stroke-width="1"/>
<line x1="27.5" y1="401.2" x2="27.5" y2="403.8" stroke="#000" stroke-width="0.9"/>
<text x="30.4" y="409.3" font-size="8.9" font-weight="bold" text-anchor="end" fill="#000" transform="rotate(-45 30.4 409.3)">G0/G1</text>
<line x1="43.45" y1="363.8" x2="43.45" y2="363" stroke="#222" stroke-width="0.8"/>
<line x1="40.650000000000006" y1="363" x2="46.25" y2="363" stroke="#222" stroke-width="0.8"/>
<rect x="38.00" y="363.80" width="10.90" height="37.40" fill="#969696" stroke="none" stroke-width="1"/>
<line x1="43.45" y1="401.2" x2="43.45" y2="403.8" stroke="#000" stroke-width="0.9"/>
<text x="46.35" y="409.3" font-size="8.9" font-weight="bold" text-anchor="end" fill="#000" transform="rotate(-45 46.35 409.3)">S</text>
<rect x="54.60" y="393.30" width="10.60" height="7.90" fill="#dcdcdc" stroke="#2a2a2a" stroke-width="0.8"/>
<line x1="59.9" y1="401.2" x2="59.9" y2="403.8" stroke="#000" stroke-width="0.9"/>
<text x="62.8" y="409.3" font-size="8.9" font-weight="bold" text-anchor="end" fill="#000" transform="rotate(-45 62.8 409.3)">G2/M</text>
<line x1="75.9" y1="345.3" x2="75.9" y2="342.6" stroke="#222" stroke-width="0.8"/>
<line x1="73.10000000000001" y1="342.6" x2="78.7" y2="342.6" stroke="#222" stroke-width="0.8"/>
<rect x="70.60" y="345.30" width="10.60" height="55.90" fill="#000" stroke="none" stroke-width="1"/>
<line x1="75.9" y1="401.2" x2="75.9" y2="403.8" stroke="#000" stroke-width="0.9"/>
<text x="78.80000000000001" y="409.3" font-size="8.9" font-weight="bold" text-anchor="end" fill="#000" transform="rotate(-45 78.80000000000001 409.3)">G0/G1</text>
<line x1="91.65" y1="381.8" x2="91.65" y2="377.4" stroke="#222" stroke-width="0.8"/>
<line x1="88.85000000000001" y1="377.4" x2="94.45" y2="377.4" stroke="#222" stroke-width="0.8"/>
<rect x="86.20" y="381.80" width="10.90" height="19.40" fill="#969696" stroke="none" stroke-width="1"/>
<line x1="91.65" y1="401.2" x2="91.65" y2="403.8" stroke="#000" stroke-width="0.9"/>
<text x="94.55000000000001" y="409.3" font-size="8.9" font-weight="bold" text-anchor="end" fill="#000" transform="rotate(-45 94.55000000000001 409.3)">S</text>
<line x1="107.75" y1="390.6" x2="107.75" y2="389.6" stroke="#222" stroke-width="0.8"/>
<line x1="104.95" y1="389.6" x2="110.55" y2="389.6" stroke="#222" stroke-width="0.8"/>
<rect x="102.40" y="391.00" width="10.70" height="10.20" fill="#dcdcdc" stroke="#2a2a2a" stroke-width="0.8"/>
<line x1="107.75" y1="401.2" x2="107.75" y2="403.8" stroke="#000" stroke-width="0.9"/>
<text x="110.65" y="409.3" font-size="8.9" font-weight="bold" text-anchor="end" fill="#000" transform="rotate(-45 110.65 409.3)">G2/M</text>
<line x1="123.9" y1="357" x2="123.9" y2="356.4" stroke="#222" stroke-width="0.8"/>
<line x1="121.10000000000001" y1="356.4" x2="126.7" y2="356.4" stroke="#222" stroke-width="0.8"/>
<rect x="118.80" y="357.00" width="10.20" height="44.20" fill="#000" stroke="none" stroke-width="1"/>
<line x1="123.9" y1="401.2" x2="123.9" y2="403.8" stroke="#000" stroke-width="0.9"/>
<text x="126.80000000000001" y="409.3" font-size="8.9" font-weight="bold" text-anchor="end" fill="#000" transform="rotate(-45 126.80000000000001 409.3)">G0/G1</text>
<line x1="140.14999999999998" y1="363.2" x2="140.14999999999998" y2="362.5" stroke="#222" stroke-width="0.8"/>
<line x1="137.34999999999997" y1="362.5" x2="142.95" y2="362.5" stroke="#222" stroke-width="0.8"/>
<rect x="134.70" y="363.20" width="10.90" height="38.00" fill="#969696" stroke="none" stroke-width="1"/>
<line x1="140.14999999999998" y1="401.2" x2="140.14999999999998" y2="403.8" stroke="#000" stroke-width="0.9"/>
<text x="143.04999999999998" y="409.3" font-size="8.9" font-weight="bold" text-anchor="end" fill="#000" transform="rotate(-45 143.04999999999998 409.3)">S</text>
<rect x="151.00" y="393.30" width="10.60" height="7.90" fill="#dcdcdc" stroke="#2a2a2a" stroke-width="0.8"/>
<line x1="156.3" y1="401.2" x2="156.3" y2="403.8" stroke="#000" stroke-width="0.9"/>
<text x="159.20000000000002" y="409.3" font-size="8.9" font-weight="bold" text-anchor="end" fill="#000" transform="rotate(-45 159.20000000000002 409.3)">G2/M</text>
<line x1="20.8" y1="324.6" x2="20.8" y2="401.8" stroke="#000" stroke-width="1.2"/>
<line x1="20.2" y1="401.2" x2="164" y2="401.2" stroke="#000" stroke-width="1.3"/>
<line x1="18.2" y1="401.2" x2="20.8" y2="401.2" stroke="#000" stroke-width="0.9"/>
<text x="18.8" y="403.09999999999997" font-size="5.4" font-weight="bold" text-anchor="end" fill="#000">0</text>
<line x1="18.2" y1="382.15" x2="20.8" y2="382.15" stroke="#000" stroke-width="0.9"/>
<text x="18.8" y="384.04999999999995" font-size="5.4" font-weight="bold" text-anchor="end" fill="#000">20</text>
<line x1="18.2" y1="363.1" x2="20.8" y2="363.1" stroke="#000" stroke-width="0.9"/>
<text x="18.8" y="365.0" font-size="5.4" font-weight="bold" text-anchor="end" fill="#000">40</text>
<line x1="18.2" y1="344.05" x2="20.8" y2="344.05" stroke="#000" stroke-width="0.9"/>
<text x="18.8" y="345.95" font-size="5.4" font-weight="bold" text-anchor="end" fill="#000">60</text>
<line x1="18.2" y1="325.0" x2="20.8" y2="325.0" stroke="#000" stroke-width="0.9"/>
<text x="18.8" y="326.9" font-size="5.4" font-weight="bold" text-anchor="end" fill="#000">80</text>
<text x="5.6" y="363.1" font-size="8.1" font-weight="bold" text-anchor="middle" fill="#000" transform="rotate(-90 5.6 363.1)">% cells</text>
<text x="75.9" y="342.3" font-size="8.2" font-weight="bold" text-anchor="middle" fill="#000" stroke="#000" stroke-width="0.4" letter-spacing="-0.3">*</text>
<text x="91.65" y="377.09999999999997" font-size="8.2" font-weight="bold" text-anchor="middle" fill="#000" stroke="#000" stroke-width="0.4" letter-spacing="-0.3">*</text>
<text x="107.75" y="387.6" font-size="7.6" font-weight="normal" text-anchor="middle" fill="#000" stroke="#000" stroke-width="0.22">n.s.</text>
<text x="123.9" y="354.4" font-size="7.6" font-weight="normal" text-anchor="middle" fill="#000" stroke="#000" stroke-width="0.22">n.s.</text>
<text x="140.14999999999998" y="360.5" font-size="7.6" font-weight="normal" text-anchor="middle" fill="#000" stroke="#000" stroke-width="0.22">n.s.</text>
<text x="156.3" y="390.9" font-size="7.6" font-weight="normal" text-anchor="middle" fill="#000" stroke="#000" stroke-width="0.22">n.s.</text>
<text x="173.5" y="298" font-size="11.6" font-weight="bold" text-anchor="start" fill="#000">G</text>
<rect x="251.50" y="290.00" width="31.70" height="13.00" fill="#fff" stroke="#000" stroke-width="1.2"/>
<text x="267.35" y="300.1" font-size="8.4" font-weight="bold" text-anchor="middle" fill="#000">RS4;11</text>
<line x1="199.6" y1="316.2" x2="238.5" y2="316.2" stroke="#222" stroke-width="1.0"/>
<text x="220.45000000000002" y="314.59999999999997" font-size="8.7" font-weight="bold" text-anchor="middle" fill="#000">alone</text>
<line x1="247.6" y1="316.2" x2="286.8" y2="316.2" stroke="#222" stroke-width="1.0"/>
<text x="266.3" y="314.59999999999997" font-size="8.4" font-weight="bold" text-anchor="middle" fill="#000">+ U343</text>
<line x1="295.2" y1="316.2" x2="334.4" y2="316.2" stroke="#222" stroke-width="1.0"/>
<text x="314.09999999999997" y="314.59999999999997" font-size="8.4" font-weight="bold" text-anchor="middle" fill="#000">+ MSC</text>
<line x1="206.7" y1="359.4" x2="206.7" y2="358.6" stroke="#222" stroke-width="0.8"/>
<line x1="203.89999999999998" y1="358.6" x2="209.5" y2="358.6" stroke="#222" stroke-width="0.8"/>
<rect x="201.40" y="359.40" width="10.60" height="40.50" fill="#000" stroke="none" stroke-width="1"/>
<line x1="206.7" y1="399.9" x2="206.7" y2="402.5" stroke="#000" stroke-width="0.9"/>
<text x="209.6" y="408.0" font-size="8.9" font-weight="bold" text-anchor="end" fill="#000" transform="rotate(-45 209.6 408.0)">G0/G1</text>
<line x1="223.1" y1="355.3" x2="223.1" y2="354.7" stroke="#222" stroke-width="0.8"/>
<line x1="220.29999999999998" y1="354.7" x2="225.9" y2="354.7" stroke="#222" stroke-width="0.8"/>
<rect x="217.60" y="355.30" width="11.00" height="44.60" fill="#969696" stroke="none" stroke-width="1"/>
<line x1="223.1" y1="399.9" x2="223.1" y2="402.5" stroke="#000" stroke-width="0.9"/>
<text x="226.0" y="408.0" font-size="8.9" font-weight="bold" text-anchor="end" fill="#000" transform="rotate(-45 226.0 408.0)">S</text>
<line x1="239.4" y1="392.9" x2="239.4" y2="392" stroke="#222" stroke-width="0.8"/>
<line x1="236.6" y1="392" x2="242.20000000000002" y2="392" stroke="#222" stroke-width="0.8"/>
<rect x="233.90" y="393.30" width="11.00" height="6.60" fill="#dcdcdc" stroke="#2a2a2a" stroke-width="0.8"/>
<line x1="239.4" y1="399.9" x2="239.4" y2="402.5" stroke="#000" stroke-width="0.9"/>
<text x="242.3" y="408.0" font-size="8.9" font-weight="bold" text-anchor="end" fill="#000" transform="rotate(-45 242.3 408.0)">G2/M</text>
<line x1="255.89999999999998" y1="355.8" x2="255.89999999999998" y2="355.2" stroke="#222" stroke-width="0.8"/>
<line x1="253.09999999999997" y1="355.2" x2="258.7" y2="355.2" stroke="#222" stroke-width="0.8"/>
<rect x="250.60" y="355.80" width="10.60" height="44.10" fill="#000" stroke="none" stroke-width="1"/>
<line x1="255.89999999999998" y1="399.9" x2="255.89999999999998" y2="402.5" stroke="#000" stroke-width="0.9"/>
<text x="258.79999999999995" y="408.0" font-size="8.9" font-weight="bold" text-anchor="end" fill="#000" transform="rotate(-45 258.79999999999995 408.0)">G0/G1</text>
<line x1="272.05" y1="368.2" x2="272.05" y2="365" stroke="#222" stroke-width="0.8"/>
<line x1="269.25" y1="365" x2="274.85" y2="365" stroke="#222" stroke-width="0.8"/>
<rect x="266.50" y="368.20" width="11.10" height="31.70" fill="#969696" stroke="none" stroke-width="1"/>
<line x1="272.05" y1="399.9" x2="272.05" y2="402.5" stroke="#000" stroke-width="0.9"/>
<text x="274.95" y="408.0" font-size="8.9" font-weight="bold" text-anchor="end" fill="#000" transform="rotate(-45 274.95 408.0)">S</text>
<line x1="288.1" y1="386.2" x2="288.1" y2="381.8" stroke="#222" stroke-width="0.8"/>
<line x1="285.3" y1="381.8" x2="290.90000000000003" y2="381.8" stroke="#222" stroke-width="0.8"/>
<rect x="282.80" y="386.60" width="10.60" height="13.30" fill="#dcdcdc" stroke="#2a2a2a" stroke-width="0.8"/>
<line x1="288.1" y1="399.9" x2="288.1" y2="402.5" stroke="#000" stroke-width="0.9"/>
<text x="291.0" y="408.0" font-size="8.9" font-weight="bold" text-anchor="end" fill="#000" transform="rotate(-45 291.0 408.0)">G2/M</text>
<line x1="304.55" y1="353.2" x2="304.55" y2="351.8" stroke="#222" stroke-width="0.8"/>
<line x1="301.75" y1="351.8" x2="307.35" y2="351.8" stroke="#222" stroke-width="0.8"/>
<rect x="299.10" y="353.20" width="10.90" height="46.70" fill="#000" stroke="none" stroke-width="1"/>
<line x1="304.55" y1="399.9" x2="304.55" y2="402.5" stroke="#000" stroke-width="0.9"/>
<text x="307.45" y="408.0" font-size="8.9" font-weight="bold" text-anchor="end" fill="#000" transform="rotate(-45 307.45 408.0)">G0/G1</text>
<line x1="320.75" y1="365.5" x2="320.75" y2="364" stroke="#222" stroke-width="0.8"/>
<line x1="317.95" y1="364" x2="323.55" y2="364" stroke="#222" stroke-width="0.8"/>
<rect x="315.40" y="365.50" width="10.70" height="34.40" fill="#969696" stroke="none" stroke-width="1"/>
<line x1="320.75" y1="399.9" x2="320.75" y2="402.5" stroke="#000" stroke-width="0.9"/>
<text x="323.65" y="408.0" font-size="8.9" font-weight="bold" text-anchor="end" fill="#000" transform="rotate(-45 323.65 408.0)">S</text>
<line x1="336.79999999999995" y1="392.4" x2="336.79999999999995" y2="391.4" stroke="#222" stroke-width="0.8"/>
<line x1="333.99999999999994" y1="391.4" x2="339.59999999999997" y2="391.4" stroke="#222" stroke-width="0.8"/>
<rect x="331.30" y="392.80" width="11.00" height="7.10" fill="#dcdcdc" stroke="#2a2a2a" stroke-width="0.8"/>
<line x1="336.79999999999995" y1="399.9" x2="336.79999999999995" y2="402.5" stroke="#000" stroke-width="0.9"/>
<text x="339.69999999999993" y="408.0" font-size="8.9" font-weight="bold" text-anchor="end" fill="#000" transform="rotate(-45 339.69999999999993 408.0)">G2/M</text>
<line x1="198.6" y1="324.1" x2="198.6" y2="400.5" stroke="#000" stroke-width="1.2"/>
<line x1="198.0" y1="399.9" x2="344.5" y2="399.9" stroke="#000" stroke-width="1.3"/>
<line x1="196.0" y1="399.9" x2="198.6" y2="399.9" stroke="#000" stroke-width="0.9"/>
<text x="196.6" y="401.79999999999995" font-size="5.4" font-weight="bold" text-anchor="end" fill="#000">0</text>
<line x1="196.0" y1="381.04999999999995" x2="198.6" y2="381.04999999999995" stroke="#000" stroke-width="0.9"/>
<text x="196.6" y="382.94999999999993" font-size="5.4" font-weight="bold" text-anchor="end" fill="#000">20</text>
<line x1="196.0" y1="362.2" x2="198.6" y2="362.2" stroke="#000" stroke-width="0.9"/>
<text x="196.6" y="364.09999999999997" font-size="5.4" font-weight="bold" text-anchor="end" fill="#000">40</text>
<line x1="196.0" y1="343.35" x2="198.6" y2="343.35" stroke="#000" stroke-width="0.9"/>
<text x="196.6" y="345.25" font-size="5.4" font-weight="bold" text-anchor="end" fill="#000">60</text>
<line x1="196.0" y1="324.5" x2="198.6" y2="324.5" stroke="#000" stroke-width="0.9"/>
<text x="196.6" y="326.4" font-size="5.4" font-weight="bold" text-anchor="end" fill="#000">80</text>
<text x="185.0" y="362.2" font-size="8.1" font-weight="bold" text-anchor="middle" fill="#000" transform="rotate(-90 185.0 362.2)">% cells</text>
<text x="255.89999999999998" y="354.9" font-size="8.2" font-weight="bold" text-anchor="middle" fill="#000" stroke="#000" stroke-width="0.4" letter-spacing="-0.3">*</text>
<text x="272.05" y="364.7" font-size="8.2" font-weight="bold" text-anchor="middle" fill="#000" stroke="#000" stroke-width="0.4" letter-spacing="-0.3">*</text>
<text x="288.1" y="379.8" font-size="7.6" font-weight="normal" text-anchor="middle" fill="#000" stroke="#000" stroke-width="0.22">n.s.</text>
<text x="304.55" y="351.5" font-size="8.2" font-weight="bold" text-anchor="middle" fill="#000" stroke="#000" stroke-width="0.4" letter-spacing="-0.3">*</text>
<text x="320.75" y="363.7" font-size="8.2" font-weight="bold" text-anchor="middle" fill="#000" stroke="#000" stroke-width="0.4" letter-spacing="-0.3">**</text>
<text x="336.79999999999995" y="389.4" font-size="7.6" font-weight="normal" text-anchor="middle" fill="#000" stroke="#000" stroke-width="0.22">n.s.</text>
<text x="347.2" y="298" font-size="11.6" font-weight="bold" text-anchor="start" fill="#000">H</text>
<rect x="422.60" y="291.00" width="28.00" height="12.80" fill="#fff" stroke="#000" stroke-width="1.2"/>
<text x="436.6" y="300.90000000000003" font-size="8.4" font-weight="bold" text-anchor="middle" fill="#000">HL-60</text>
<line x1="371.8" y1="317.6" x2="410.6" y2="317.6" stroke="#222" stroke-width="1.0"/>
<text x="392.6" y="316.0" font-size="8.7" font-weight="bold" text-anchor="middle" fill="#000">alone</text>
<line x1="419.4" y1="317.6" x2="457.7" y2="317.6" stroke="#222" stroke-width="1.0"/>
<text x="437.65" y="316.0" font-size="8.4" font-weight="bold" text-anchor="middle" fill="#000">+ U343</text>
<line x1="466.2" y1="317.6" x2="504.5" y2="317.6" stroke="#222" stroke-width="1.0"/>
<text x="484.65000000000003" y="316.0" font-size="8.4" font-weight="bold" text-anchor="middle" fill="#000">+ MSC</text>
<rect x="374.00" y="354.80" width="10.10" height="45.80" fill="#000" stroke="none" stroke-width="1"/>
<line x1="379.05" y1="400.6" x2="379.05" y2="403.20000000000005" stroke="#000" stroke-width="0.9"/>
<text x="381.95" y="408.70000000000005" font-size="8.9" font-weight="bold" text-anchor="end" fill="#000" transform="rotate(-45 381.95 408.70000000000005)">G0/G1</text>
<line x1="395.25" y1="359.4" x2="395.25" y2="358.4" stroke="#222" stroke-width="0.8"/>
<line x1="392.45" y1="358.4" x2="398.05" y2="358.4" stroke="#222" stroke-width="0.8"/>
<rect x="390.00" y="359.40" width="10.50" height="41.20" fill="#969696" stroke="none" stroke-width="1"/>
<line x1="395.25" y1="400.6" x2="395.25" y2="403.20000000000005" stroke="#000" stroke-width="0.9"/>
<text x="398.15" y="408.70000000000005" font-size="8.9" font-weight="bold" text-anchor="end" fill="#000" transform="rotate(-45 398.15 408.70000000000005)">S</text>
<line x1="411.20000000000005" y1="394.5" x2="411.20000000000005" y2="393.7" stroke="#222" stroke-width="0.8"/>
<line x1="408.40000000000003" y1="393.7" x2="414.00000000000006" y2="393.7" stroke="#222" stroke-width="0.8"/>
<rect x="406.00" y="394.90" width="10.40" height="5.70" fill="#dcdcdc" stroke="#2a2a2a" stroke-width="0.8"/>
<line x1="411.20000000000005" y1="400.6" x2="411.20000000000005" y2="403.20000000000005" stroke="#000" stroke-width="0.9"/>
<text x="414.1" y="408.70000000000005" font-size="8.9" font-weight="bold" text-anchor="end" fill="#000" transform="rotate(-45 414.1 408.70000000000005)">G2/M</text>
<line x1="427.05" y1="348.8" x2="427.05" y2="348.1" stroke="#222" stroke-width="0.8"/>
<line x1="424.25" y1="348.1" x2="429.85" y2="348.1" stroke="#222" stroke-width="0.8"/>
<rect x="421.50" y="348.80" width="11.10" height="51.80" fill="#000" stroke="none" stroke-width="1"/>
<line x1="427.05" y1="400.6" x2="427.05" y2="403.20000000000005" stroke="#000" stroke-width="0.9"/>
<text x="429.95" y="408.70000000000005" font-size="8.9" font-weight="bold" text-anchor="end" fill="#000" transform="rotate(-45 429.95 408.70000000000005)">G0/G1</text>
<line x1="442.79999999999995" y1="367.1" x2="442.79999999999995" y2="366.4" stroke="#222" stroke-width="0.8"/>
<line x1="439.99999999999994" y1="366.4" x2="445.59999999999997" y2="366.4" stroke="#222" stroke-width="0.8"/>
<rect x="437.40" y="367.10" width="10.80" height="33.50" fill="#969696" stroke="none" stroke-width="1"/>
<line x1="442.79999999999995" y1="400.6" x2="442.79999999999995" y2="403.20000000000005" stroke="#000" stroke-width="0.9"/>
<text x="445.69999999999993" y="408.70000000000005" font-size="8.9" font-weight="bold" text-anchor="end" fill="#000" transform="rotate(-45 445.69999999999993 408.70000000000005)">S</text>
<line x1="458.7" y1="393.2" x2="458.7" y2="392.5" stroke="#222" stroke-width="0.8"/>
<line x1="455.9" y1="392.5" x2="461.5" y2="392.5" stroke="#222" stroke-width="0.8"/>
<rect x="453.40" y="393.60" width="10.60" height="7.00" fill="#dcdcdc" stroke="#2a2a2a" stroke-width="0.8"/>
<line x1="458.7" y1="400.6" x2="458.7" y2="403.20000000000005" stroke="#000" stroke-width="0.9"/>
<text x="461.59999999999997" y="408.70000000000005" font-size="8.9" font-weight="bold" text-anchor="end" fill="#000" transform="rotate(-45 461.59999999999997 408.70000000000005)">G2/M</text>
<line x1="474.6" y1="355" x2="474.6" y2="354.4" stroke="#222" stroke-width="0.8"/>
<line x1="471.8" y1="354.4" x2="477.40000000000003" y2="354.4" stroke="#222" stroke-width="0.8"/>
<rect x="469.20" y="355.00" width="10.80" height="45.60" fill="#000" stroke="none" stroke-width="1"/>
<line x1="474.6" y1="400.6" x2="474.6" y2="403.20000000000005" stroke="#000" stroke-width="0.9"/>
<text x="477.5" y="408.70000000000005" font-size="8.9" font-weight="bold" text-anchor="end" fill="#000" transform="rotate(-45 477.5 408.70000000000005)">G0/G1</text>
<line x1="490.4" y1="358.5" x2="490.4" y2="357.9" stroke="#222" stroke-width="0.8"/>
<line x1="487.59999999999997" y1="357.9" x2="493.2" y2="357.9" stroke="#222" stroke-width="0.8"/>
<rect x="485.00" y="358.50" width="10.80" height="42.10" fill="#969696" stroke="none" stroke-width="1"/>
<line x1="490.4" y1="400.6" x2="490.4" y2="403.20000000000005" stroke="#000" stroke-width="0.9"/>
<text x="493.29999999999995" y="408.70000000000005" font-size="8.9" font-weight="bold" text-anchor="end" fill="#000" transform="rotate(-45 493.29999999999995 408.70000000000005)">S</text>
<rect x="501.40" y="395.80" width="10.20" height="4.80" fill="#dcdcdc" stroke="#2a2a2a" stroke-width="0.8"/>
<line x1="506.5" y1="400.6" x2="506.5" y2="403.20000000000005" stroke="#000" stroke-width="0.9"/>
<text x="509.4" y="408.70000000000005" font-size="8.9" font-weight="bold" text-anchor="end" fill="#000" transform="rotate(-45 509.4 408.70000000000005)">G2/M</text>
<line x1="371.4" y1="325.8" x2="371.4" y2="401.20000000000005" stroke="#000" stroke-width="1.2"/>
<line x1="370.79999999999995" y1="400.6" x2="514" y2="400.6" stroke="#000" stroke-width="1.3"/>
<line x1="368.79999999999995" y1="400.6" x2="371.4" y2="400.6" stroke="#000" stroke-width="0.9"/>
<text x="369.4" y="402.5" font-size="5.4" font-weight="bold" text-anchor="end" fill="#000">0</text>
<line x1="368.79999999999995" y1="382.0" x2="371.4" y2="382.0" stroke="#000" stroke-width="0.9"/>
<text x="369.4" y="383.9" font-size="5.4" font-weight="bold" text-anchor="end" fill="#000">20</text>
<line x1="368.79999999999995" y1="363.4" x2="371.4" y2="363.4" stroke="#000" stroke-width="0.9"/>
<text x="369.4" y="365.29999999999995" font-size="5.4" font-weight="bold" text-anchor="end" fill="#000">40</text>
<line x1="368.79999999999995" y1="344.8" x2="371.4" y2="344.8" stroke="#000" stroke-width="0.9"/>
<text x="369.4" y="346.7" font-size="5.4" font-weight="bold" text-anchor="end" fill="#000">60</text>
<line x1="368.79999999999995" y1="326.2" x2="371.4" y2="326.2" stroke="#000" stroke-width="0.9"/>
<text x="369.4" y="328.09999999999997" font-size="5.4" font-weight="bold" text-anchor="end" fill="#000">80</text>
<text x="358.5" y="363.4" font-size="8.1" font-weight="bold" text-anchor="middle" fill="#000" transform="rotate(-90 358.5 363.4)">% cells</text>
<text x="427.05" y="347.8" font-size="8.2" font-weight="bold" text-anchor="middle" fill="#000" stroke="#000" stroke-width="0.4" letter-spacing="-0.3">***</text>
<text x="442.79999999999995" y="366.09999999999997" font-size="8.2" font-weight="bold" text-anchor="middle" fill="#000" stroke="#000" stroke-width="0.4" letter-spacing="-0.3">**</text>
<text x="458.7" y="390.5" font-size="7.6" font-weight="normal" text-anchor="middle" fill="#000" stroke="#000" stroke-width="0.22">n.s.</text>
<text x="474.6" y="352.4" font-size="7.6" font-weight="normal" text-anchor="middle" fill="#000" stroke="#000" stroke-width="0.22">n.s.</text>
<text x="490.4" y="355.9" font-size="7.6" font-weight="normal" text-anchor="middle" fill="#000" stroke="#000" stroke-width="0.22">n.s.</text>
<text x="506.5" y="393.4" font-size="7.6" font-weight="normal" text-anchor="middle" fill="#000" stroke="#000" stroke-width="0.22">n.s.</text>
</svg>
</body></html>
